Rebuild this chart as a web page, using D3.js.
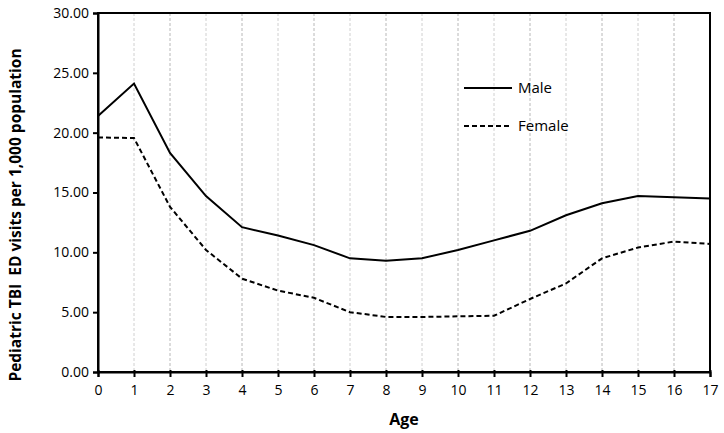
<!DOCTYPE html>
<html>
<head>
<meta charset="utf-8">
<script src="https://cdnjs.cloudflare.com/ajax/libs/d3/7.8.5/d3.min.js"></script>
<style>
  body { margin: 0; background: #fff; }
  text { font-family: "Open Sans", "Noto Sans", sans-serif; }
</style>
</head>
<body>
<div id="chart"></div>
<script>
const ages = [0, 1, 2, 3, 4, 5, 6, 7, 8, 9, 10, 11, 12, 13, 14, 15, 16, 17];
const male = [21.4, 24.1, 18.3, 14.7, 12.1, 11.4, 10.6, 9.5, 9.3, 9.5, 10.2, 11.0, 11.8, 13.1, 14.1, 14.7, 14.6, 14.5];
const female = [19.6, 19.55, 13.8, 10.2, 7.8, 6.8, 6.2, 5.0, 4.6, 4.6, 4.65, 4.7, 6.1, 7.4, 9.5, 10.4, 10.9, 10.7];
const yTicks = [0, 5, 10, 15, 20, 25, 30];

const margin = {top: 13, right: 14, bottom: 61, left: 98},
    width = 724 - margin.left - margin.right,
    height = 433 - margin.top - margin.bottom;

const svg = d3.select("#chart")
    .append("svg")
    .attr("width", 724)
    .attr("height", 433)
    .append("g")
    .attr("transform", `translate(${margin.left},${margin.top})`);

const x = d3.scaleLinear().domain([0, 17]).range([0, width]);
const y = d3.scaleLinear().domain([0, 30]).range([height, 0]);

// vertical gridlines
svg.append("g")
    .selectAll("line")
    .data(ages.slice(1, -1))
    .enter()
    .append("line")
    .attr("x1", d => x(d)).attr("x2", d => x(d))
    .attr("y1", 0).attr("y2", height)
    .attr("stroke", d => d % 2 === 0 ? "#b8b8b8" : "#d0d0d0")
    .attr("stroke-width", 1)
    .attr("stroke-dasharray", "3,2");

// frame
svg.append("rect")
    .attr("width", width).attr("height", height)
    .attr("fill", "none").attr("stroke", "#000").attr("stroke-width", 2);

// axes
const xAxis = svg.append("g")
    .attr("transform", `translate(0,${height})`)
    .call(d3.axisBottom(x).tickValues(ages).tickSize(5).tickPadding(8).tickFormat(d3.format("d")));
const yAxis = svg.append("g")
    .call(d3.axisLeft(y).tickValues(yTicks).tickSize(5).tickPadding(4).tickFormat(d3.format(".2f")));

[xAxis, yAxis].forEach(a => {
    a.select(".domain").attr("stroke-width", 2);
    a.selectAll(".tick line").attr("stroke-width", 2);
    a.selectAll("text").attr("font-size", "14px").attr("fill", "#000")
        .style("font-family", "'Open Sans', sans-serif");
});
xAxis.selectAll(".tick line").attr("y1", -2);

// lines
const line = d3.line()
    .x((d, i) => x(ages[i]))
    .y(d => y(d));

svg.append("path")
    .datum(male)
    .attr("d", line)
    .attr("fill", "none")
    .attr("stroke", "#000")
    .attr("stroke-width", 2);

svg.append("path")
    .datum(female)
    .attr("d", line)
    .attr("fill", "none")
    .attr("stroke", "#000")
    .attr("stroke-width", 2)
    .attr("stroke-dasharray", "5,3");

// legend
const legend = svg.append("g").attr("transform", "translate(366,75)");
legend.append("line").attr("x1", 0).attr("x2", 48).attr("y1", 0).attr("y2", 0)
    .attr("stroke", "#000").attr("stroke-width", 2);
legend.append("text").attr("x", 54).attr("y", 0).attr("dy", "0.35em")
    .attr("font-size", "15px").text("Male");
legend.append("line").attr("x1", 0).attr("x2", 48).attr("y1", 38).attr("y2", 38)
    .attr("stroke", "#000").attr("stroke-width", 2).attr("stroke-dasharray", "5,3");
legend.append("text").attr("x", 54).attr("y", 38).attr("dy", "0.35em")
    .attr("font-size", "15px").text("Female");

// axis titles
svg.append("text")
    .attr("x", width / 2).attr("y", height + 53)
    .attr("text-anchor", "middle")
    .attr("font-size", "16px").attr("font-weight", "bold")
    .text("Age");

svg.append("text")
    .attr("transform", `translate(${-77},${202}) rotate(-90)`)
    .attr("text-anchor", "middle")
    .attr("font-size", "15.5px").attr("font-weight", "bold")
    .style("white-space", "pre")
    .text("Pediatric TBI  ED visits per 1,000 population");
</script>
</body>
</html>
